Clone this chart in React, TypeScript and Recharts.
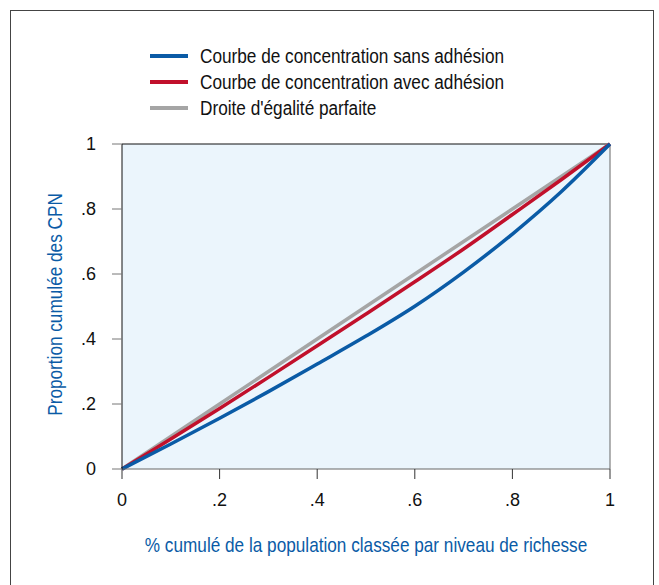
import React from 'react';
import { LineChart, Line, XAxis, YAxis, CartesianGrid, ReferenceLine, Legend, Label } from 'recharts';

const popShare = [0, 0.1, 0.2, 0.3, 0.4, 0.5, 0.6, 0.7, 0.8, 0.9, 1];
const sansAdhesion = [0, 0.077, 0.156, 0.238, 0.323, 0.409, 0.501, 0.606, 0.723, 0.853, 1];
const avecAdhesion = [0, 0.092, 0.186, 0.282, 0.379, 0.477, 0.576, 0.677, 0.783, 0.89, 1];
const egalite = [0, 0.1, 0.2, 0.3, 0.4, 0.5, 0.6, 0.7, 0.8, 0.9, 1];

const tickValues = [0, 0.2, 0.4, 0.6, 0.8, 1];
const tickLabels = ['0', '.2', '.4', '.6', '.8', '1'];

const seriesNames = [
  'Courbe de concentration sans adhésion',
  'Courbe de concentration avec adhésion',
  "Droite d'égalité parfaite",
];
const seriesColors = ['#0A5BA6', '#C1102B', '#A5A5A5'];
const labelBlue = '#0A5BA6';

const data = popShare.map((x, i) => ({
  x,
  sans: sansAdhesion[i],
  avec: avecAdhesion[i],
  egal: egalite[i],
}));

const font = '"Liberation Sans", Arial, sans-serif';
// no condensed face installed, so squeeze the regular one
const squeeze = 0.86;

const fmt = (v: number) => tickLabels[tickValues.indexOf(v)] ?? String(v);

const LegendBox = () => (
  <div style={{ fontFamily: font, fontSize: 20, color: '#111' }}>
    {seriesNames.map((name, i) => (
      <div key={name} style={{ display: 'flex', alignItems: 'center', height: 26 }}>
        <span style={{ display: 'inline-block', width: 38, height: 4, background: seriesColors[i], marginRight: 12 }} />
        <span style={{ display: 'inline-block', whiteSpace: 'nowrap', transform: `scaleX(${squeeze})`, transformOrigin: 'left center' }}>
          {name}
        </span>
      </div>
    ))}
  </div>
);

const XTitle = (props: any) => {
  const vb = props.viewBox || { x: 122, y: 469, width: 488, height: 40 };
  const cx = vb.x + vb.width / 2;
  return (
    <text
      transform={`translate(${cx}, ${vb.y + 83}) scale(${squeeze}, 1)`}
      textAnchor="middle"
      fill={labelBlue}
      style={{ fontFamily: font, fontSize: 20 }}
    >
      {props.value}
    </text>
  );
};

const YTitle = (props: any) => {
  const vb = props.viewBox || { x: 62, y: 144, width: 60, height: 325 };
  const cy = vb.y + vb.height / 2 - 2;
  return (
    <text
      transform={`translate(${vb.x}, ${cy}) rotate(-90) scale(${squeeze}, 1)`}
      textAnchor="middle"
      fill={labelBlue}
      style={{ fontFamily: font, fontSize: 20 }}
    >
      {props.value}
    </text>
  );
};

const App: React.FC = () => {
  return (
    <div style={{ position: 'absolute', left: 0, top: 0, width: 659, height: 585, background: '#fff' }}>
      <div
        style={{
          position: 'absolute',
          left: 10,
          top: 10,
          width: 644,
          height: 600,
          border: '1px solid #444',
          boxSizing: 'border-box',
        }}
      />
      <div style={{ position: 'absolute', left: 0, top: 0 }}>
        <LineChart width={659} height={585} data={data} margin={{ top: 66, right: 49, left: 62, bottom: 76 }}>
          <CartesianGrid fill="#EBF5FC" horizontal={false} vertical={false} />
          <XAxis
            dataKey="x"
            type="number"
            domain={[0, 1]}
            ticks={tickValues}
            tickFormatter={fmt}
            stroke="#666"
            tick={{ fill: '#111', fontSize: 18, fontFamily: font }}
            tickLine={{ stroke: '#333' }}
            tickSize={10}
            tickMargin={14}
            height={40}
          >
            <Label value="% cumulé de la population classée par niveau de richesse" content={<XTitle />} />
          </XAxis>
          <YAxis
            type="number"
            domain={[0, 1]}
            ticks={tickValues}
            tickFormatter={fmt}
            axisLine={{ stroke: '#111' }}
            tick={{ fill: '#111', fontSize: 18, fontFamily: font }}
            tickLine={{ stroke: '#777' }}
            tickSize={10}
            tickMargin={16}
            width={60}
          >
            <Label value="Proportion cumulée des CPN" content={<YTitle />} />
          </YAxis>
          <ReferenceLine y={1} stroke="#111" />
          <ReferenceLine x={1} stroke="#666" />
          <Legend
            verticalAlign="top"
            align="left"
            content={<LegendBox />}
            wrapperStyle={{ top: 43, left: 150, width: 420 }}
          />
          <Line
            dataKey="egal"
            name={seriesNames[2]}
            stroke={seriesColors[2]}
            strokeWidth={3.5}
            dot={false}
            type="linear"
            isAnimationActive={false}
          />
          <Line
            dataKey="avec"
            name={seriesNames[1]}
            stroke={seriesColors[1]}
            strokeWidth={3.5}
            dot={false}
            type="monotone"
            isAnimationActive={false}
          />
          <Line
            dataKey="sans"
            name={seriesNames[0]}
            stroke={seriesColors[0]}
            strokeWidth={3.5}
            dot={false}
            type="monotone"
            isAnimationActive={false}
          />
        </LineChart>
      </div>
    </div>
  );
};

export default App;
